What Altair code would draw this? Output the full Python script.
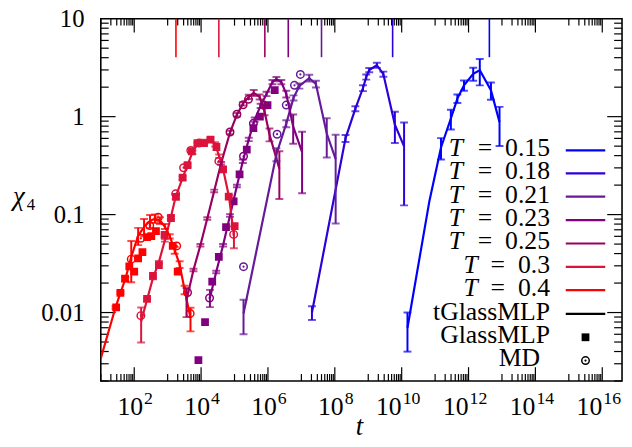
import altair as alt
import pandas as pd

W, H = 528, 367
FONT = "Liberation Serif"

temps = ["0.15", "0.18", "0.21", "0.23", "0.25", "0.3", "0.4"]
colors = ["#0000ff", "#2b00d9", "#661a99", "#800080", "#99005f", "#dc143c", "#ff0000"]
tau_t = [4.2e12, 5.36e9, 4.0e7, 4.05e6, 8.07e5, 3.40e4, 1.77e3]

# tGlassMLP curves: time, chi4, relative error
l015_t = [1.49e10, 6.76e10, 1.50e11, 2.96e11, 4.63e11, 7.31e11, 1.38e12, 2.17e12, 4.68e12, 8.45e12]
l015_c = [0.0070, 0.138, 0.485, 0.958, 1.53, 2.09, 2.74, 2.98, 1.86, 0.88]
l015_e = [0.43, 0.0, 0.245, 0.23, 0.10, 0.12, 0.15, 0.30, 0.20, 0.43]

l018_t = [2.07e7, 2.09e8, 4.12e8, 6.97e8, 8.71e8, 1.07e9, 1.81e9, 2.83e9, 6.26e9, 1.18e10]
l018_c = [0.0100, 0.600, 1.205, 1.96, 2.54, 2.99, 3.35, 2.72, 0.83, 0.497]
l018_e = [0.16, 0.08, 0.06, 0.07, 0.06, 0.05, 0.06, 0.06, 0.35, 0.75]

l021_t = [1.86e5, 1.79e6, 3.53e6, 5.81e6, 8.73e6, 1.72e7, 2.72e7, 5.74e7, 1.06e8]
l021_c = [0.00976, 0.413, 0.849, 1.556, 2.056, 2.477, 2.153, 0.673, 0.368]
l021_e = [0.385, 0.15, 0.08, 0.06, 0.06, 0.08, 0.08, 0.43, 0.78]

l023_t = [1.84e4, 2.83e4, 4.55e4, 7.33e4, 1.178e5, 1.774e5, 2.667e5, 4.01e5, 6.03e5,
          9.06e5, 1.364e6, 1.79e6, 2.51e6, 3.53e6, 5.69e6, 1.049e7]
l023_c = [0.0142, 0.0259, 0.0486, 0.0977, 0.196, 0.351, 0.586, 0.933, 1.291,
          1.706, 2.259, 2.42, 2.259, 1.706, 0.79, 0.434]
l023_e = [0.2, 0.03, 0.03, 0.03, 0.03, 0.04, 0.04, 0.05, 0.05,
          0.05, 0.05, 0.05, 0.05, 0.08, 0.33, 0.62]

l025_t = [3.67e3, 5.92e3, 9.53e3, 1.531e4, 2.466e4, 3.972e4, 7.33e4, 1.178e5, 1.774e5,
          2.667e5, 3.748e5, 5.637e5, 7.91e5, 1.112e6, 2.193e6]
l025_c = [0.0134, 0.0272, 0.0486, 0.0912, 0.1746, 0.335, 0.689, 1.047, 1.353,
          1.592, 1.746, 1.592, 1.125, 0.658, 0.294]
l025_e = [0.33, 0.03, 0.03, 0.03, 0.03, 0.03, 0.04, 0.04, 0.04,
          0.05, 0.07, 0.06, 0.08, 0.15, 0.51]

l030_t = [161, 242, 364, 547, 824, 1239, 1738, 2800, 3935, 5521, 7762, 1.25e4,
          1.88e4, 2.64e4, 3.47e4, 4.55e4, 6.84e4, 9.61e4]
l030_c = [0.0081, 0.0135, 0.0226, 0.0327, 0.0546, 0.0933, 0.152, 0.237, 0.320, 0.433,
          0.521, 0.558, 0.586, 0.521, 0.394, 0.292, 0.152, 0.0605]
l030_e = [0.39, 0.03, 0.03, 0.03, 0.03, 0.04, 0.05, 0.04, 0.04, 0.04, 0.04, 0.04,
          0.04, 0.05, 0.04, 0.03, 0.04, 0.25]

l040_t = [10, 27.5, 38.6, 54.2, 81.5, 131, 197, 297, 417, 586, 824, 1157, 1626, 2285, 3210, 4820]
l040_c = [0.0034, 0.01125, 0.0159, 0.0220, 0.037, 0.061, 0.075, 0.086, 0.091, 0.087,
          0.0757, 0.060, 0.0433, 0.031, 0.0171, 0.0088]
l040_e = [0.0, 0.03, 0.03, 0.05, 0.45, 0.2, 0.2, 0.15, 0.1, 0.08, 0.06, 0.05, 0.08, 0.08, 0.1, 0.27]

# GlassMLP (squares)
g023_t = [8318, 1.312e4, 2.153e4, 3.396e4, 5.58e4, 9.42e4, 1.416e5, 2.328e5, 3.673e5, 5.754e5, 9.70e5, 1.596e6]
g023_c = [0.00327, 0.00798, 0.0207, 0.0371, 0.0745, 0.1363, 0.2576, 0.4613, 0.762, 1.0, 1.312, 1.862]
g030_t = [242, 364, 547, 807, 1256, 1774, 2800, 3935, 5270, 7762, 1.225e4, 1.919e4, 2.884e4, 4.55e4, 6.699e4, 1.009e5]
g030_c = [0.0138, 0.0237, 0.0305, 0.0621, 0.0923, 0.152, 0.238, 0.320, 0.443, 0.537, 0.537, 0.582,
          0.490, 0.290, 0.153, 0.0762]
g040_t = [28.8, 38.6, 53.1, 71.2, 100, 131, 176, 242, 324, 447, 1419, 1995]
g040_c = [0.0113, 0.0159, 0.0222, 0.0296, 0.0261, 0.0357, 0.0413, 0.059, 0.0604, 0.0678, 0.0479, 0.0261]

# MD (dotted circles)
m021_t = [1.858e5, 1.879e6, 3.532e6, 6.209e6, 9.333e6]
m021_c = [0.0294, 0.662, 1.312, 2.089, 2.698]
m023_t = [1.79e4, 1.858e5, 3.673e5]
m023_c = [0.01406, 0.394, 0.855]
m025_t = [3935, 7.33e4, 1.178e5, 1.811e5, 2.613e5, 7.55e5]
m025_c = [0.0160, 0.697, 1.059, 1.321, 1.503, 1.312]
m030_t = [158, 1738, 3000, 4920, 8710, 3.396e4, 9.42e4]
m030_c = [0.0093, 0.163, 0.301, 0.451, 0.537, 0.351, 0.0628]
m040_t = [81.5, 158, 291, 522, 1862, 4720]
m040_c = [0.0351, 0.0573, 0.0775, 0.094, 0.0479, 0.0098]

x_label_exps = [2, 4, 6, 8, 10, 12, 14, 16]
y_label_vals = [0.01, 0.1, 1, 10]

# ---------------- tables ----------------
lines = [("0.15", l015_t, l015_c, l015_e), ("0.18", l018_t, l018_c, l018_e),
         ("0.21", l021_t, l021_c, l021_e), ("0.23", l023_t, l023_c, l023_e),
         ("0.25", l025_t, l025_c, l025_e), ("0.3", l030_t, l030_c, l030_e),
         ("0.4", l040_t, l040_c, l040_e)]
rows = []
for T, ts, cs, es in lines:
    for t, c, e in zip(ts, cs, es):
        rows.append({"T": T, "t": t, "chi": c, "lo": c * (1 - e), "hi": c * (1 + e), "e": e})
df_line = pd.DataFrame(rows)
df_err = df_line[df_line["e"] > 0]

df_sq = pd.DataFrame(
    [{"T": T, "t": t, "chi": c} for T, ts, cs in
     [("0.23", g023_t, g023_c), ("0.3", g030_t, g030_c), ("0.4", g040_t, g040_c)]
     for t, c in zip(ts, cs)])
df_md = pd.DataFrame(
    [{"T": T, "t": t, "chi": c} for T, ts, cs in
     [("0.21", m021_t, m021_c), ("0.23", m023_t, m023_c), ("0.25", m025_t, m025_c),
      ("0.3", m030_t, m030_c), ("0.4", m040_t, m040_c)]
     for t, c in zip(ts, cs)])
df_tau = pd.DataFrame({"T": temps, "t": tau_t})
one_row = pd.DataFrame({"k": [0]})

xs = alt.Scale(type="log", domain=[10, 3.9e16], nice=False)
ys = alt.Scale(type="log", domain=[0.002, 10], nice=False)
cs_ = alt.Scale(domain=temps, range=colors)
yaxis = alt.Axis(values=y_label_vals, format="~g", ticks=False, tickSize=0, domain=False,
                 grid=False, labelPadding=17, title=None, labelFont=FONT, labelFontSize=25,
                 labelColor="black")


def X(f="t"):
    return alt.X(f"{f}:Q", scale=xs, axis=None)


def Y(f="chi"):
    return alt.Y(f"{f}:Q", scale=ys, axis=yaxis)


COL = alt.Color("T:N", scale=cs_, legend=None)

layers = []

# axis ticks (inward, mirrored)
x_major = [10.0 ** e for e in range(2, 17, 2)]
x_minor = [m * 10.0 ** k for k in range(1, 16, 2) for m in range(1, 10)]
y_major = [0.01, 0.1, 1.0]
y_minor = [m * 10.0 ** k for k in (-3, -2, -1, 0) for m in range(2, 10) if 0.002 <= m * 10.0 ** k <= 10]
for vals, L in ((x_major, 14), (x_minor, 7)):
    d = pd.DataFrame({"v": vals})
    base = alt.Chart(d).mark_rule(color="black", strokeWidth=1.2)
    layers.append(base.encode(x=X("v"), y=alt.value(H), y2=alt.value(H - L)))
    layers.append(base.encode(x=X("v"), y=alt.value(0), y2=alt.value(L)))
for vals, L in ((y_major, 15), (y_minor, 8)):
    d = pd.DataFrame({"v": vals})
    base = alt.Chart(d).mark_rule(color="black", strokeWidth=1.2)
    layers.append(base.encode(y=Y("v"), x=alt.value(0), x2=alt.value(L)))
    layers.append(base.encode(y=Y("v"), x=alt.value(W), x2=alt.value(W - L)))

# relaxation-time markers at top
layers.append(alt.Chart(df_tau).mark_rule(strokeWidth=1.6).encode(
    x=X(), y=alt.value(0), y2=alt.value(39), color=COL))

# GlassMLP squares
layers.append(alt.Chart(df_sq).mark_square(size=62, opacity=1, clip=True).encode(
    x=X(), y=Y(), color=COL))
# MD circles with dot
layers.append(alt.Chart(df_md).mark_point(shape="circle", filled=False, size=58, strokeWidth=1.5,
                                          opacity=1, clip=True).encode(x=X(), y=Y(), color=COL))
layers.append(alt.Chart(df_md).mark_circle(size=5, opacity=1, clip=True).encode(
    x=X(), y=Y(), color=COL))

# tGlassMLP lines with error bars
layers.append(alt.Chart(df_line).mark_line(strokeWidth=2.2, clip=True).encode(
    x=X(), y=Y(), color=COL, order="t:Q"))
layers.append(alt.Chart(df_err).mark_rule(strokeWidth=2, clip=True).encode(
    x=X(), y=Y("lo"), y2="hi:Q", color=COL))
for f in ("lo", "hi"):
    layers.append(alt.Chart(df_err).mark_tick(orient="horizontal", size=8, thickness=2, clip=True).encode(
        x=X(), y=Y(f), color=COL))

# x tick labels 10^n
df_xl = pd.DataFrame({"e": x_label_exps, "t": [10.0 ** e for e in x_label_exps],
                      "base": ["10"] * len(x_label_exps), "ex": [str(e) for e in x_label_exps]})
one = df_xl[df_xl["e"] < 10]
two = df_xl[df_xl["e"] >= 10]
for d, dxb, dxe in ((one, 9, 10), (two, 0, 1)):
    layers.append(alt.Chart(d).mark_text(align="right", baseline="alphabetic", font=FONT, fontSize=26,
                                         dx=dxb, color="black").encode(x=X(), y=alt.value(H + 34), text="base:N"))
    layers.append(alt.Chart(d).mark_text(align="left", baseline="alphabetic", font=FONT, fontSize=18,
                                         dx=dxe, color="black").encode(x=X(), y=alt.value(H + 23), text="ex:N"))


def label(text, x, y, size=26, italic=False, align="right"):
    kw = dict(text=text, font=FONT, fontSize=size, align=align, baseline="alphabetic", color="black")
    if italic:
        kw["fontStyle"] = "italic"
    return alt.Chart(one_row).mark_text(**kw).encode(x=alt.value(x), y=alt.value(y))


# axis titles
layers.append(label("χ", -83, 189, 27, True, "center"))
layers.append(label("4", -75, 194, 17, False, "left"))
layers.append(label("t", 262, 422, 27, True, "center"))

# legend
leg_y = [133.3, 156.7, 180.3, 204, 227.7, 251.3, 275, 299, 322.7, 346.3]
for i, T in enumerate(temps):
    yv = leg_y[i]
    tx = 367 if len(T) == 4 else 382
    layers.append(label("=\u2002" + T, 455, yv + 6))
    layers.append(label("T", tx, yv + 6, 26, True))
    layers.append(alt.Chart(one_row).mark_rule(strokeWidth=2.2, color=colors[i]).encode(
        x=alt.value(471), x2=alt.value(511), y=alt.value(yv)))
for j, (name, xr) in enumerate((("tGlassMLP", 455), ("GlassMLP", 455), ("MD", 445))):
    layers.append(label(name, xr, leg_y[7 + j] + 6))
layers.append(alt.Chart(one_row).mark_rule(strokeWidth=2.2, color="black").encode(
    x=alt.value(471), x2=alt.value(511), y=alt.value(leg_y[7])))
layers.append(alt.Chart(one_row).mark_square(size=62, opacity=1, color="black").encode(
    x=alt.value(491), y=alt.value(leg_y[8])))
layers.append(alt.Chart(one_row).mark_point(shape="circle", filled=False, size=58, strokeWidth=1.5,
                                            opacity=1, color="black").encode(
    x=alt.value(491), y=alt.value(leg_y[9])))
layers.append(alt.Chart(one_row).mark_circle(size=5, opacity=1, color="black").encode(
    x=alt.value(491), y=alt.value(leg_y[9])))

chart = alt.layer(*layers).properties(
    width=W, height=H,
    padding={"left": 94, "top": 8, "right": 2, "bottom": 64},
    autosize=alt.AutoSizeParams(type="none"),
).configure_view(stroke="black", strokeWidth=1.6).configure_axis(labelFont=FONT)

chart.save("out.html", embed_options={"renderer": "svg", "actions": False})
